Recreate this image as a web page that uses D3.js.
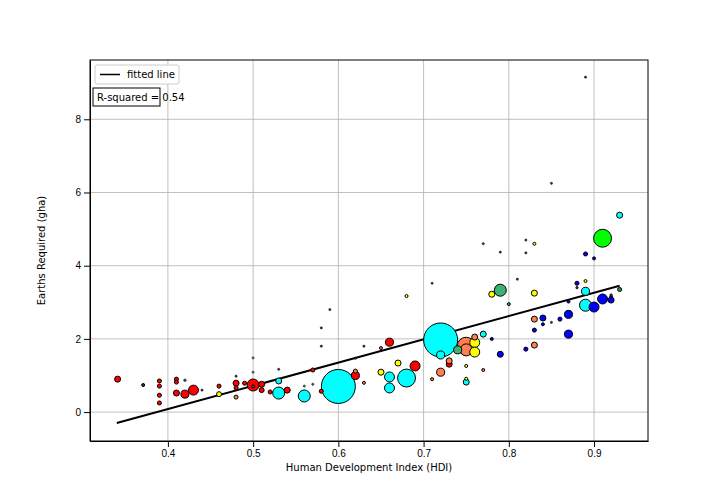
<!DOCTYPE html>
<html>
<head>
<meta charset="utf-8">
<script src="https://cdn.jsdelivr.net/npm/d3@7"></script>
<style>
  body { margin: 0; background: #fff; font-family: "DejaVu Sans", sans-serif; }
  .tick text { font-size: 10px; fill: #000; }
  .grid line { stroke: #b0b0b0; stroke-width: 0.8; }
</style>
</head>
<body>
<div id="chart"></div>
<script>
// Chart data: HDI, footprint (earths), population weight, colour
const hdi = [0.341,0.371,0.39,0.39,0.39,0.39,0.41,0.41,0.41,0.42,0.43,0.42,0.44,0.46,0.46,0.48,0.48,0.48,0.48,0.49,0.50,0.51,0.51,0.50,0.50,0.52,0.53,0.53,0.54,0.53,0.56,0.56,0.57,0.58,0.60,0.57,0.58,0.59,0.58,0.62,0.62,0.63,0.62,0.63,0.65,0.66,0.65,0.66,0.66,0.67,0.68,0.69,0.68,0.71,0.71,0.72,0.72,0.72,0.73,0.73,0.75,0.75,0.74,0.76,0.76,0.76,0.77,0.75,0.75,0.75,0.77,0.78,0.79,0.80,0.79,0.78,0.77,0.79,0.83,0.82,0.82,0.81,0.83,0.84,0.83,0.83,0.83,0.82,0.84,0.85,0.86,0.87,0.87,0.87,0.88,0.88,0.89,0.89,0.89,0.90,0.91,0.92,0.92,0.93,0.91,0.89,0.90,0.93,0.85,0.89,0.92,0.50];
const earths = [0.90,0.74,0.85,0.71,0.46,0.25,0.90,0.82,0.52,0.49,0.60,0.87,0.60,0.71,0.49,0.66,0.79,0.41,0.98,0.79,0.74,0.76,0.60,1.09,1.48,0.55,0.85,0.52,0.60,1.17,0.44,0.71,1.15,0.57,0.70,0.76,1.80,2.80,2.30,1.00,1.12,0.80,1.47,1.80,1.75,1.91,1.09,0.96,0.66,1.34,0.93,1.26,3.17,3.52,0.90,1.97,1.56,1.09,1.31,1.40,1.80,1.70,1.70,1.90,1.64,2.05,2.13,0.82,0.91,1.26,1.15,3.22,3.33,2.95,1.58,2.00,4.60,4.37,4.60,4.70,4.35,3.63,3.25,2.57,2.54,2.24,1.83,1.72,2.40,2.45,2.54,2.67,2.13,3.02,3.52,3.40,3.58,3.30,2.92,2.87,3.09,3.06,3.15,3.35,4.75,4.32,4.20,5.38,6.25,9.15,3.20,0.70];
const pop = [44,11,20,20,20,20,20,20,44,78,120,8,6,20,30,20,44,20,6,20,175,44,30,6,6,20,44,175,44,6,175,6,20,20,1400,6,6,6,6,78,20,11,6,6,11,78,44,120,120,44,390,120,11,6,11,1400,78,78,44,44,390,175,78,120,120,44,44,44,11,11,11,44,175,11,44,11,6,6,11,6,6,6,44,44,44,20,44,20,11,6,20,78,78,11,20,8,11,78,175,120,120,44,11,20,390,20,11,44,6,6,8,11];
const colours = ["red","#333","red","red","red","red","red","red","red","red","red","#555","#333","red","yellow","red","red","coral","#333","red","red","red","red","#888","#888","red","cyan","cyan","red","#333","cyan","#2e8b57","red","red","cyan","#555","#333","#333","#333","red","coral","coral","#333","#333","coral","red","yellow","cyan","cyan","yellow","cyan","red","yellow","#333","coral","cyan","cyan","coral","red","coral","coral","coral","#3cb371","yellow","yellow","coral","cyan","cyan","yellow","yellow","coral","yellow","#3cb371","#3cb371","blue","blue","#333","#333","yellow","#333","#333","#333","yellow","blue","coral","blue","coral","blue","blue","#333","blue","blue","blue","blue","blue","#333","yellow","cyan","cyan","blue","blue","blue","blue","#2e8b57","lime","blue","blue","cyan","#333","#333","#333","#555"];
const xTicks = [0.4,0.5,0.6,0.7,0.8,0.9];
const yTicks = [0,2,4,6,8];
const fitLine = [[0.34,-0.30],[0.93,3.45]];

const points = hdi.map((h, i) => ({ hdi: h, earths: earths[i], pop: pop[i], colour: colours[i] }))
  .sort((a, b) => b.pop - a.pop);

const svgWidth = 720, svgHeight = 504;
const margin = { top: 60, right: 72, bottom: 63, left: 90 };
const width = svgWidth - margin.left - margin.right;
const height = svgHeight - margin.top - margin.bottom;

const svg = d3.select("#chart").append("svg")
  .attr("width", svgWidth).attr("height", svgHeight);
const g = svg.append("g").attr("transform", `translate(${margin.left},${margin.top})`);

const x = d3.scaleLinear().domain([0.3086, 0.9633]).range([0, width]);
const y = d3.scaleLinear().domain([-0.79, 9.62]).range([height, 0]);
const r = d3.scaleSqrt().domain([0, 1400]).range([0, 17]);

// grid
g.append("g").attr("class", "grid")
  .selectAll("line.v").data(xTicks).enter().append("line")
  .attr("x1", d => x(d)).attr("x2", d => x(d)).attr("y1", 0).attr("y2", height);
g.append("g").attr("class", "grid")
  .selectAll("line.h").data(yTicks).enter().append("line")
  .attr("y1", d => y(d)).attr("y2", d => y(d)).attr("x1", 0).attr("x2", width);

// fitted line
g.append("path")
  .attr("d", d3.line().x(d => x(d[0])).y(d => y(d[1]))(fitLine))
  .attr("stroke", "black").attr("stroke-width", 2).attr("fill", "none");

// bubbles
g.selectAll("circle").data(points).enter().append("circle")
  .attr("cx", d => x(d.hdi)).attr("cy", d => y(d.earths))
  .attr("r", d => r(d.pop))
  .attr("fill", d => d.colour)
  .attr("stroke", "black").attr("stroke-width", d => d.pop < 10 ? 0.5 : 1);

// axes
g.append("g").attr("transform", `translate(0,${height})`)
  .call(d3.axisBottom(x).tickValues(xTicks).tickFormat(d3.format(".1f")).tickSizeOuter(0));
g.append("g").call(d3.axisLeft(y).tickValues(yTicks).tickSizeOuter(0));
g.append("rect").attr("width", width).attr("height", height)
  .attr("fill", "none").attr("stroke", "black").attr("stroke-width", 1);

g.append("text").attr("x", width / 2).attr("y", height + 30)
  .attr("text-anchor", "middle").attr("font-size", 10).text("Human Development Index (HDI)");
g.append("text").attr("transform", `translate(-45,${height / 2}) rotate(-90)`)
  .attr("text-anchor", "middle").attr("font-size", 10).text("Earths Required (gha)");

// legend
const leg = g.append("g").attr("transform", "translate(5,5)");
leg.append("rect").attr("width", 84).attr("height", 19).attr("rx", 2)
  .attr("fill", "white").attr("stroke", "#ccc");
leg.append("line").attr("x1", 5).attr("x2", 25).attr("y1", 9.5).attr("y2", 9.5)
  .attr("stroke", "black").attr("stroke-width", 1.5);
leg.append("text").attr("x", 32).attr("y", 13).attr("font-size", 10).text("fitted line");

const rs = g.append("g").attr("transform", "translate(3,28)");
rs.append("rect").attr("width", 67).attr("height", 18)
  .attr("fill", "white").attr("stroke", "black");
rs.append("text").attr("x", 4).attr("y", 13).attr("font-size", 10).text("R-squared = 0.54");
</script>
</body>
</html>
